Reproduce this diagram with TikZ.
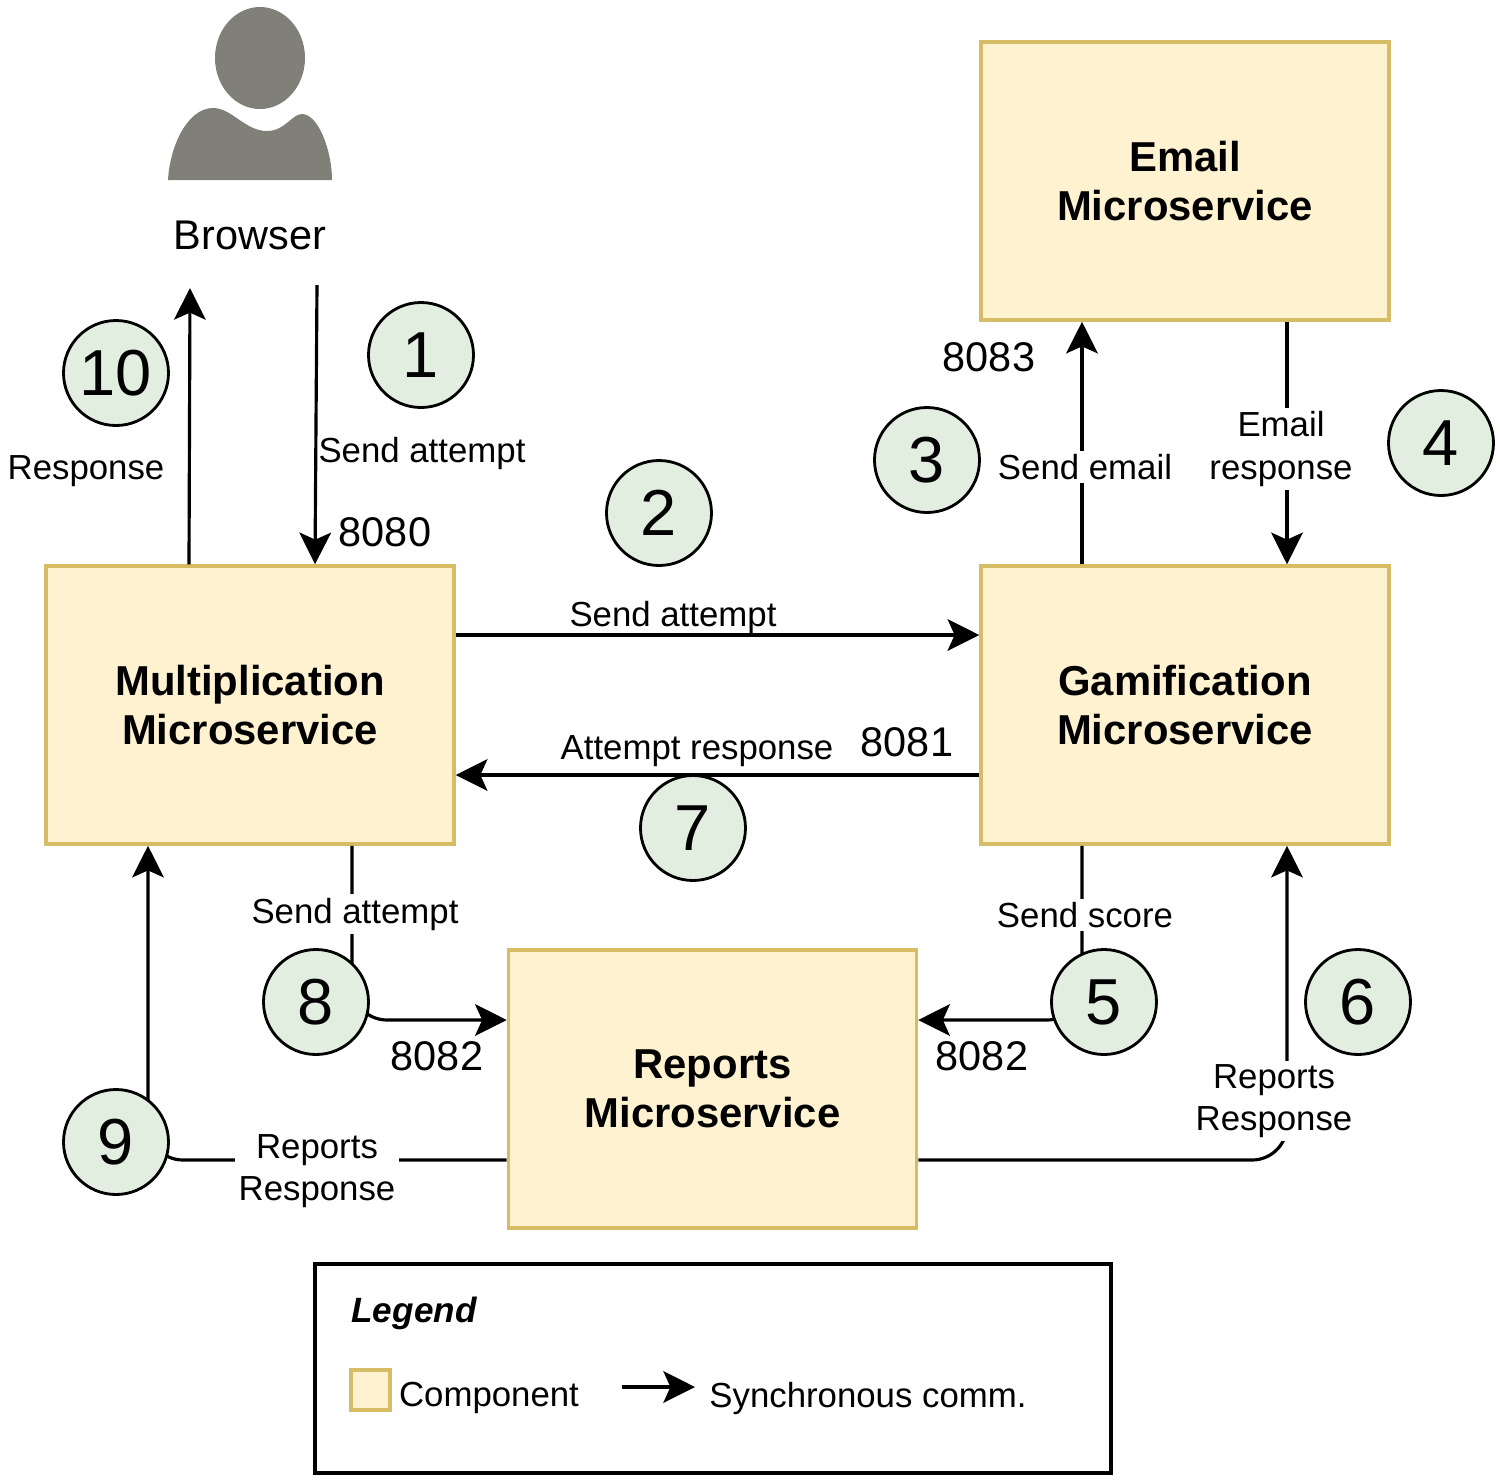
\documentclass[tikz,border=0pt]{standalone}
\usepackage{fontspec}
\setmainfont{Liberation Sans}
\definecolor{boxgold}{RGB}{214, 188, 100}
\definecolor{boxcream}{RGB}{255, 242, 208}
\definecolor{stepgreen}{RGB}{226, 239, 224}
\definecolor{persongray}{RGB}{128, 128, 120}
\usetikzlibrary{arrows.meta, positioning, calc}
\tikzset{
  svcbox/.style={draw=boxgold, fill=boxcream, line width=1pt, minimum width=4.08cm, minimum height=2.78cm, align=center, font=\fontsize{11.9}{14}\selectfont\bfseries},
  stepcircle/.style={circle, draw=black, fill=stepgreen, line width=0.8pt, minimum size=1.05cm, inner sep=0pt, font=\fontsize{18.5}{20}\selectfont},
  conn/.style={draw=black, line width=0.9pt, -{Stealth[length=9pt, width=9pt, inset=2pt]}},
  linklabel/.style={fill=white, inner sep=1pt, align=center, font=\fontsize{9.9}{12}\selectfont},
  plainlabel/.style={inner sep=0pt, align=center, font=\fontsize{9.9}{12}\selectfont},
  portlabel/.style={inner sep=0pt, font=\fontsize{11.8}{14}\selectfont},
}

\begin{document}
\begin{tikzpicture}
  \useasboundingbox (0, 0) rectangle (15, -14.8);

  % Browser figure
  \fill[persongray] (2.6, -0.58) ellipse (0.45 and 0.51);
  \fill[persongray] (1.68, -1.8) .. controls (1.70, -1.45) and (1.88, -1.08) .. (2.13, -1.08)
    .. controls (2.32, -1.08) and (2.45, -1.31) .. (2.67, -1.31)
    .. controls (2.85, -1.31) and (2.92, -1.14) .. (3.02, -1.14)
    .. controls (3.18, -1.14) and (3.32, -1.50) .. (3.32, -1.8) -- cycle;
  \node[portlabel] (browser) at (2.5, -2.35) {Browser};
  \coordinate (browserout) at (3.17, -2.85);
  \coordinate (browserin) at (1.90, -2.88);

  % Components
  \node[svcbox] (mult) at (2.5, -7.05) {Multiplication\\Microservice};
  \node[svcbox] (gam) at (11.85, -7.05) {Gamification\\Microservice};
  \node[svcbox] (email) at (11.85, -1.81) {Email\\Microservice};
  \node[svcbox] (reports) at (7.125, -10.89) {Reports\\Microservice};

  % Connectors
  \draw[conn] (browserout) -- ([xshift=0.65cm]mult.north);
  \draw[conn] ([xshift=-0.61cm]mult.north) -- (browserin);
  \draw[conn] ([yshift=0.7cm]mult.east) -- ([yshift=0.7cm]gam.west);
  \draw[conn] ([yshift=-0.7cm]gam.west) -- ([yshift=-0.7cm]mult.east);
  \draw[conn] ([xshift=-1.03cm]gam.north) -- ([xshift=-1.03cm]email.south);
  \draw[conn] ([xshift=1.02cm]email.south) -- ([xshift=1.02cm]gam.north);
  \draw[conn, rounded corners=0.35cm] ([xshift=1.02cm]mult.south) |- ([yshift=0.69cm]reports.west);
  \draw[conn, rounded corners=0.35cm] ([xshift=-1.03cm]gam.south) |- ([yshift=0.69cm]reports.east);
  \draw[conn, rounded corners=0.35cm] ([yshift=-0.71cm]reports.west) -| ([xshift=-1.02cm]mult.south);
  \draw[conn, rounded corners=0.35cm] ([yshift=-0.71cm]reports.east) -| ([xshift=1.02cm]gam.south);

  % Connector labels
  \node[plainlabel] (sendone) at (4.22, -4.53) {Send attempt};
  \node[plainlabel] (respone) at (0.86, -4.71) {Response};
  \node[plainlabel] (sendtwo) at (6.73, -6.17) {Send attempt};
  \node[plainlabel] (resptwo) at (6.97, -7.51) {Attempt response};
  \node[linklabel] (sendemail) at (10.85, -4.67) {Send email};
  \node[linklabel] (respemail) at (12.81, -4.49) {Email\\response};
  \node[linklabel] (sendeight) at (3.55, -9.14) {Send attempt};
  \node[linklabel] (sendscore) at (10.85, -9.15) {Send score};
  \node[linklabel] (respnine) at (3.17, -11.71) {Reports\\Response};
  \node[linklabel] (respsix) at (12.74, -11.01) {Reports\\Response};

  % Ports
  \node[portlabel] (port80) at (3.85, -5.32) {8080};
  \node[portlabel] (port81) at (9.07, -7.42) {8081};
  \node[portlabel] (port83) at (9.89, -3.57) {8083};
  \node[portlabel] (port82a) at (4.37, -10.56) {8082};
  \node[portlabel] (port82b) at (9.82, -10.56) {8082};

  % Numbered steps
  \node[stepcircle] (s1) at (4.21, -3.55) {1};
  \node[stepcircle] (s2) at (6.59, -5.13) {2};
  \node[stepcircle] (s3) at (9.27, -4.60) {3};
  \node[stepcircle] (s4) at (14.41, -4.43) {4};
  \node[stepcircle] (s5) at (11.04, -10.02) {5};
  \node[stepcircle] (s6) at (13.58, -10.02) {6};
  \node[stepcircle] (s7) at (6.93, -8.28) {7};
  \node[stepcircle] (s8) at (3.16, -10.02) {8};
  \node[stepcircle] (s9) at (1.16, -11.42) {9};
  \node[stepcircle] (s10) at (1.16, -3.73) {10};

  % Legend
  \node[draw=black, line width=0.9pt, minimum width=7.96cm, minimum height=2.09cm] (legendbox) at (7.13, -13.685) {};
  \node[plainlabel, font=\fontsize{10}{12}\selectfont\bfseries\itshape] (legendtitle) at (4.14, -13.13) {Legend};
  \node[draw=boxgold, fill=boxcream, line width=1pt, minimum width=0.39cm, minimum height=0.40cm, inner sep=0pt] (swatch) at (3.705, -13.90) {};
  \node[plainlabel] (legendcomp) at (4.89, -13.98) {Component};
  \coordinate (legendfrom) at (6.22, -13.87);
  \coordinate (legendto) at (6.95, -13.87);
  \draw[conn] (legendfrom) -- (legendto);
  \node[plainlabel] (legendsync) at (8.68, -13.98) {Synchronous comm.};
\end{tikzpicture}
\end{document}
